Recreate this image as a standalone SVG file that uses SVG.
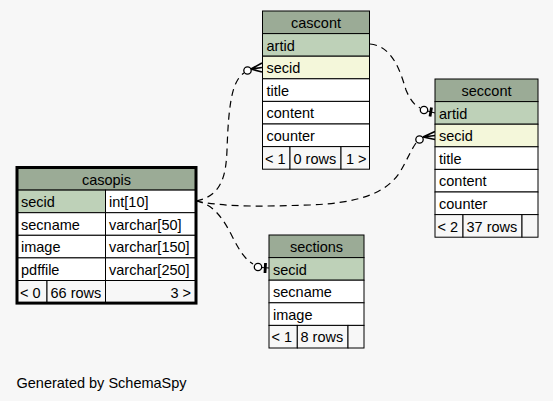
<svg xmlns="http://www.w3.org/2000/svg" width="553" height="401" viewBox="0 0 553 401">
<style>
text{font-family:"Liberation Sans",Arial,sans-serif;font-size:14.5px;fill:#000}
.c{text-anchor:middle}
.r{text-anchor:end}
.h{fill:#9bab96;stroke:#000;stroke-width:1}
.k{fill:#bed1b8;stroke:#000;stroke-width:1}
.i{fill:#f4f7da;stroke:#000;stroke-width:1}
.w{fill:#fff;stroke:#000;stroke-width:1}
.f{fill:#f7f7f7;stroke:#000;stroke-width:1}
.e{fill:none;stroke:#000;stroke-width:1.2;stroke-dasharray:7,5}
.m{fill:none;stroke:#000;stroke-width:1.2}
.cr{fill:none;stroke:#000;stroke-width:1.7}
.o{fill:#fff;stroke:#000;stroke-width:1.3}
.t{stroke:#000;stroke-width:2.8}
</style>
<rect width="553" height="401" fill="#f7f7f7"/>
<g id="connectors">
<path class="e" d="M370,44 C392,46 400,70 406,90 C411,102 416,106 420,108"/>
<circle class="o" cx="424" cy="110" r="3.7"/>
<line class="m" x1="427.5" y1="111" x2="435" y2="113"/>
<line class="t" x1="431.5" y1="107.5" x2="430" y2="116.5"/>
<path class="e" d="M196,201 C222,196 226,175 227,150 C228,120 230,95 236,83 C239,77 241,75 244,73"/>
<circle class="o" cx="247.5" cy="70.5" r="3.7"/>
<path class="cr" d="M251,69 L262,63 M251,69 L262,67.5 M251,69 L262,72"/>
<path class="e" d="M196,201 C230,208 270,206 310,205 C355,203 385,195 400,172 C407,160 411,150 416,143"/>
<circle class="o" cx="419.5" cy="139.5" r="3.7"/>
<path class="cr" d="M423,137 L435,131.5 M423,137 L435,135.5 M423,137 L435,139.5"/>
<path class="e" d="M196,201 C212,204 222,216 232,236 C240,252 246,260 253,264"/>
<circle class="o" cx="258" cy="267" r="3.7"/>
<line class="m" x1="261.5" y1="267.5" x2="269" y2="268"/>
<line class="t" x1="265.5" y1="263" x2="265" y2="273"/>
</g>
<g id="cascont">
<rect class="h" x="262.5" y="11" width="107" height="22.6"/>
<rect class="k" x="262.5" y="33.6" width="107" height="22.6"/>
<rect class="i" x="262.5" y="56.2" width="107" height="22.6"/>
<rect class="w" x="262.5" y="78.8" width="107" height="22.6"/>
<rect class="w" x="262.5" y="101.4" width="107" height="22.6"/>
<rect class="w" x="262.5" y="124" width="107" height="22.6"/>
<rect class="f" x="262.5" y="146.6" width="27.5" height="22.6"/>
<rect class="f" x="290" y="146.6" width="51" height="22.6"/>
<rect class="f" x="341" y="146.6" width="28.5" height="22.6"/>
<text class="c" x="316" y="28">cascont</text>
<text x="266.5" y="50.6">artid</text>
<text x="266.5" y="73.2">secid</text>
<text x="266.5" y="95.8">title</text>
<text x="266.5" y="118.4">content</text>
<text x="266.5" y="141">counter</text>
<text x="265" y="163.6">&lt; 1</text>
<text x="293.5" y="163.6">0 rows</text>
<text class="r" x="366.5" y="163.6">1 &gt;</text>
</g>
<g id="seccont">
<rect class="h" x="435" y="79" width="103" height="22.6"/>
<rect class="k" x="435" y="101.6" width="103" height="22.6"/>
<rect class="i" x="435" y="124.2" width="103" height="22.6"/>
<rect class="w" x="435" y="146.8" width="103" height="22.6"/>
<rect class="w" x="435" y="169.4" width="103" height="22.6"/>
<rect class="w" x="435" y="192" width="103" height="22.6"/>
<rect class="f" x="435" y="214.6" width="28" height="22.6"/>
<rect class="f" x="463" y="214.6" width="59" height="22.6"/>
<rect class="f" x="522" y="214.6" width="16" height="22.6"/>
<text class="c" x="486.5" y="96">seccont</text>
<text x="439" y="118.6">artid</text>
<text x="439" y="141.2">secid</text>
<text x="439" y="163.8">title</text>
<text x="439" y="186.4">content</text>
<text x="439" y="209">counter</text>
<text x="437.5" y="231.6">&lt; 2</text>
<text x="466.5" y="231.6">37 rows</text>
</g>
<g id="casopis">
<rect class="h" x="17" y="167.5" width="179" height="22.6"/>
<rect class="k" x="17" y="190.1" width="88.5" height="22.6"/>
<rect class="w" x="105.5" y="190.1" width="90.5" height="22.6"/>
<rect class="w" x="17" y="212.7" width="88.5" height="22.6"/>
<rect class="w" x="105.5" y="212.7" width="90.5" height="22.6"/>
<rect class="w" x="17" y="235.3" width="88.5" height="22.6"/>
<rect class="w" x="105.5" y="235.3" width="90.5" height="22.6"/>
<rect class="w" x="17" y="257.9" width="88.5" height="22.6"/>
<rect class="w" x="105.5" y="257.9" width="90.5" height="22.6"/>
<rect class="f" x="17" y="280.5" width="30" height="22.6"/>
<rect class="f" x="47" y="280.5" width="58.5" height="22.6"/>
<rect class="f" x="105.5" y="280.5" width="90.5" height="22.6"/>
<rect x="17" y="167.5" width="179" height="135.6" fill="none" stroke="#000" stroke-width="3"/>
<text class="c" x="106.5" y="184.5">casopis</text>
<text x="21" y="207.1">secid</text>
<text x="109" y="207.1">int[10]</text>
<text x="21" y="229.7">secname</text>
<text x="109" y="229.7">varchar[50]</text>
<text x="21" y="252.3">image</text>
<text x="109" y="252.3">varchar[150]</text>
<text x="21" y="274.9">pdffile</text>
<text x="109" y="274.9">varchar[250]</text>
<text x="20" y="297.5">&lt; 0</text>
<text x="50.5" y="297.5">66 rows</text>
<text class="r" x="191" y="297.5">3 &gt;</text>
</g>
<g id="sections">
<rect class="h" x="269" y="235" width="95" height="22.6"/>
<rect class="k" x="269" y="257.6" width="95" height="22.6"/>
<rect class="w" x="269" y="280.2" width="95" height="22.6"/>
<rect class="w" x="269" y="302.8" width="95" height="22.6"/>
<rect class="f" x="269" y="325.4" width="28.3" height="22.6"/>
<rect class="f" x="297.3" y="325.4" width="50.7" height="22.6"/>
<rect class="f" x="348" y="325.4" width="16" height="22.6"/>
<text class="c" x="316.5" y="252">sections</text>
<text x="273" y="274.6">secid</text>
<text x="273" y="297.2">secname</text>
<text x="273" y="319.8">image</text>
<text x="271.5" y="342.4">&lt; 1</text>
<text x="300.5" y="342.4">8 rows</text>
</g>
<text x="16.5" y="388" style="font-size:14.5px">Generated by SchemaSpy</text>
</svg>
